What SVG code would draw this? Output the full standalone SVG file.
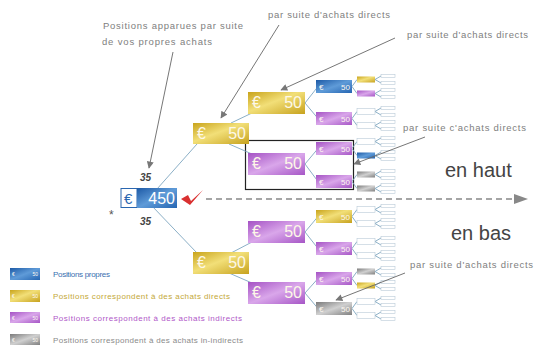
<svg xmlns="http://www.w3.org/2000/svg" width="536" height="345" viewBox="0 0 536 345">
<defs>
<linearGradient id="gY" x1="0" y1="0" x2="1" y2="1"><stop offset="0" stop-color="#c9a41c"/><stop offset="0.45" stop-color="#f2df78"/><stop offset="1" stop-color="#c7a21e"/></linearGradient>
<linearGradient id="gP" x1="0" y1="0" x2="1" y2="1"><stop offset="0" stop-color="#a552c4"/><stop offset="0.5" stop-color="#d9a6ea"/><stop offset="1" stop-color="#a656c6"/></linearGradient>
<linearGradient id="gB" x1="0" y1="0" x2="1" y2="1"><stop offset="0" stop-color="#1d5aa6"/><stop offset="0.5" stop-color="#5f9bd8"/><stop offset="1" stop-color="#2565b2"/></linearGradient>
<linearGradient id="gG" x1="0" y1="0" x2="1" y2="1"><stop offset="0" stop-color="#7a7a7a"/><stop offset="0.5" stop-color="#d0d0d0"/><stop offset="1" stop-color="#808080"/></linearGradient>
<marker id="ah" viewBox="0 0 10 10" refX="9" refY="5" markerWidth="8" markerHeight="7" orient="auto" markerUnits="userSpaceOnUse"><path d="M0,0 L10,5 L0,10 z" fill="#777"/></marker>
</defs>
<style>
.y{fill:url(#gY)}.p{fill:url(#gP)}.b{fill:url(#gB)}.g{fill:url(#gG)}.w{fill:#fff;stroke:#b9cad8;stroke-width:0.6}
.big{font-family:"Liberation Sans",Arial,sans-serif;font-size:16px;fill:#fdf8e8}
.sm{font-family:"Liberation Sans",Arial,sans-serif;font-size:8px;fill:#fdf8f0}
.tiny{font-family:"Liberation Sans",Arial,sans-serif;font-size:5px;fill:#fdf8f0}
.lbl{font-family:"Liberation Sans",Arial,sans-serif;font-size:9.5px;fill:#808080}
.leg{font-family:"Liberation Sans",Arial,sans-serif;font-size:8px}
.con{stroke:#7ea6bf;stroke-width:0.9;fill:none}
.arr{stroke:#666;stroke-width:0.9;fill:none;marker-end:url(#ah)}
.num{font-family:"Liberation Sans",Arial,sans-serif;font-size:10px;font-style:italic;font-weight:bold;fill:#444}
.dir{font-family:"Liberation Sans",Arial,sans-serif;font-size:20px;fill:#444}
</style>
<rect width="536" height="345" fill="#fff"/>

<!-- framed group -->
<rect x="245.5" y="140.5" width="108" height="49" fill="none" stroke="#222" stroke-width="1.2"/>

<!-- direction axis -->
<g id="axis">
<line x1="206" y1="199" x2="515" y2="199" stroke="#888" stroke-width="1.5" stroke-dasharray="6 4"/>
<path d="M514,194 L528,199 L514,204 z" fill="#888"/>
<text class="dir" x="445" y="177">en haut</text>
<text class="dir" x="451" y="240">en bas</text>
</g>

<g id="connectors">
<line class="con" x1="157" y1="189" x2="197" y2="144"/>
<line class="con" x1="152" y1="206" x2="197" y2="253"/>
<line class="con" x1="231" y1="123" x2="252" y2="113"/>
<line class="con" x1="229" y1="144" x2="252" y2="154"/>
<line class="con" x1="231" y1="253" x2="252" y2="242"/>
<line class="con" x1="229" y1="273" x2="252" y2="283"/>
<path class="con" d="M318,86.5 L305,103 L318,118.5"/>
<path class="con" d="M318,148.5 L305,164 L318,181.5"/>
<path class="con" d="M318,216.5 L305,232 L318,248.5"/>
<path class="con" d="M318,278.5 L305,293 L318,308.5"/>
<path class="con" d="M357,79.5 L352,86.5 L357,93.5 M357,111.5 L352,118.5 L357,125.5 M357,141.5 L352,148.5 L357,155.5 M357,174.5 L352,181.5 L357,188.5 M357,209.5 L352,216.5 L357,223.5 M357,241.5 L352,248.5 L357,255.5 M357,271.5 L352,278.5 L357,285.5 M357,301.5 L352,308.5 L357,315.5"/>
<path class="con" d="M381,76 L375,79.5 L381,83 M381,90 L375,93.5 L381,97 M381,108 L375,111.5 L381,115 M381,122 L375,125.5 L381,129 M381,138 L375,141.5 L381,145 M381,152 L375,155.5 L381,159 M381,171 L375,174.5 L381,178 M381,185 L375,188.5 L381,192 M381,206 L375,209.5 L381,213 M381,220 L375,223.5 L381,227 M381,238 L375,241.5 L381,245 M381,252 L375,255.5 L381,259 M381,268 L375,271.5 L381,275 M381,282 L375,285.5 L381,289 M381,298 L375,301.5 L381,305 M381,312 L375,315.5 L381,319"/>
</g>

<g id="root">
<rect x="121" y="188.5" width="16" height="19" fill="#fff" stroke="#2a66b0" stroke-width="1"/>
<text x="124" y="204" font-family="Liberation Sans, Arial, sans-serif" font-size="15" fill="#2a66b0">€</text>
<rect x="137" y="188" width="40" height="20" class="b"/>
<text x="175" y="204" font-family="Liberation Sans, Arial, sans-serif" font-size="16" fill="#fff" text-anchor="end">450</text>
<path d="M181,199 L188,195 L191,201 L203,190 L190,205 Z" fill="#d93030"/>
<text class="num" x="140" y="181">35</text>
<text class="num" x="140" y="225">35</text>
<text x="109" y="219" font-family="Liberation Sans, Arial, sans-serif" font-size="12" fill="#555">*</text>
</g>

<g id="n1a"><rect x="193" y="123" width="56" height="21" class="y"/><text class="big" x="197" y="139">€</text><text class="big" x="246" y="139" text-anchor="end">50</text></g>
<g id="n1b"><rect x="193" y="252" width="56" height="22" class="y"/><text class="big" x="197" y="268">€</text><text class="big" x="246" y="268" text-anchor="end">50</text></g>

<g id="n2a"><rect x="248" y="92" width="57" height="22" class="y"/><text class="big" x="252" y="108">€</text><text class="big" x="302" y="108" text-anchor="end">50</text></g>
<g id="n2b"><rect x="248" y="153" width="57" height="22" class="p"/><text class="big" x="252" y="169">€</text><text class="big" x="302" y="169" text-anchor="end">50</text></g>
<g id="n2c"><rect x="248" y="221" width="57" height="22" class="p"/><text class="big" x="252" y="237">€</text><text class="big" x="302" y="237" text-anchor="end">50</text></g>
<g id="n2d"><rect x="248" y="282" width="57" height="22" class="p"/><text class="big" x="252" y="298">€</text><text class="big" x="302" y="298" text-anchor="end">50</text></g>

<g id="n3a"><rect x="316" y="80" width="36" height="13" class="b"/><text class="sm" x="319" y="90">€</text><text class="sm" x="350" y="90" text-anchor="end">50</text></g>
<g id="n3b"><rect x="316" y="112" width="36" height="13" class="p"/><text class="sm" x="319" y="122">€</text><text class="sm" x="350" y="122" text-anchor="end">50</text></g>
<g id="n3c"><rect x="316" y="142" width="36" height="13" class="p"/><text class="sm" x="319" y="152">€</text><text class="sm" x="350" y="152" text-anchor="end">50</text></g>
<g id="n3d"><rect x="316" y="175" width="36" height="13" class="p"/><text class="sm" x="319" y="185">€</text><text class="sm" x="350" y="185" text-anchor="end">50</text></g>
<g id="n3e"><rect x="316" y="210" width="36" height="13" class="y"/><text class="sm" x="319" y="220">€</text><text class="sm" x="350" y="220" text-anchor="end">50</text></g>
<g id="n3f"><rect x="316" y="242" width="36" height="13" class="p"/><text class="sm" x="319" y="252">€</text><text class="sm" x="350" y="252" text-anchor="end">50</text></g>
<g id="n3g"><rect x="316" y="272" width="36" height="13" class="p"/><text class="sm" x="319" y="282">€</text><text class="sm" x="350" y="282" text-anchor="end">50</text></g>
<g id="n3h"><rect x="316" y="302" width="36" height="13" class="g"/><text class="sm" x="319" y="312">€</text><text class="sm" x="350" y="312" text-anchor="end">50</text></g>

<g id="level4">
<rect x="357" y="76.5" width="18" height="6" class="y"/>
<rect x="357" y="90.5" width="18" height="6" class="p"/>
<rect x="357" y="108.5" width="18" height="6" class="w"/>
<rect x="357" y="122.5" width="18" height="6" class="w"/>
<rect x="357" y="138.5" width="18" height="6" class="w"/>
<rect x="357" y="152.5" width="18" height="6" class="b"/>
<rect x="357" y="171.5" width="18" height="6" class="g"/>
<rect x="357" y="185.5" width="18" height="6" class="g"/>
<rect x="357" y="206.5" width="18" height="6" class="w"/>
<rect x="357" y="220.5" width="18" height="6" class="w"/>
<rect x="357" y="238.5" width="18" height="6" class="w"/>
<rect x="357" y="252.5" width="18" height="6" class="w"/>
<rect x="357" y="268.5" width="18" height="6" class="g"/>
<rect x="357" y="282.5" width="18" height="6" class="y"/>
<rect x="357" y="298.5" width="18" height="6" class="w"/>
<rect x="357" y="312.5" width="18" height="6" class="w"/>
</g>

<g id="level5">
<rect x="381" y="74.5" width="14" height="3" class="w"/><rect x="381" y="81.5" width="14" height="3" class="w"/>
<rect x="381" y="88.5" width="14" height="3" class="w"/><rect x="381" y="95.5" width="14" height="3" class="w"/>
<rect x="381" y="106.5" width="14" height="3" class="w"/><rect x="381" y="113.5" width="14" height="3" class="w"/>
<rect x="381" y="120.5" width="14" height="3" class="w"/><rect x="381" y="127.5" width="14" height="3" class="w"/>
<rect x="381" y="136.5" width="14" height="3" class="w"/><rect x="381" y="143.5" width="14" height="3" class="w"/>
<rect x="381" y="150.5" width="14" height="3" class="w"/><rect x="381" y="157.5" width="14" height="3" class="w"/>
<rect x="381" y="169.5" width="14" height="3" class="w"/><rect x="381" y="176.5" width="14" height="3" class="w"/>
<rect x="381" y="183.5" width="14" height="3" class="w"/><rect x="381" y="190.5" width="14" height="3" class="w"/>
<rect x="381" y="204.5" width="14" height="3" class="w"/><rect x="381" y="211.5" width="14" height="3" class="w"/>
<rect x="381" y="218.5" width="14" height="3" class="w"/><rect x="381" y="225.5" width="14" height="3" class="w"/>
<rect x="381" y="236.5" width="14" height="3" class="w"/><rect x="381" y="243.5" width="14" height="3" class="w"/>
<rect x="381" y="250.5" width="14" height="3" class="w"/><rect x="381" y="257.5" width="14" height="3" class="w"/>
<rect x="381" y="266.5" width="14" height="3" class="w"/><rect x="381" y="273.5" width="14" height="3" class="w"/>
<rect x="381" y="280.5" width="14" height="3" class="w"/><rect x="381" y="287.5" width="14" height="3" class="w"/>
<rect x="381" y="296.5" width="14" height="3" class="w"/><rect x="381" y="303.5" width="14" height="3" class="w"/>
<rect x="381" y="310.5" width="14" height="3" class="w"/><rect x="381" y="317.5" width="14" height="3" class="w"/>
</g>

<g id="annotations">
<text class="lbl" x="103" y="29" textLength="140" lengthAdjust="spacing">Positions apparues par suite</text>
<text class="lbl" x="102" y="45" textLength="110" lengthAdjust="spacing">de vos propres achats</text>
<line class="arr" x1="173" y1="52" x2="149" y2="168"/>
<text class="lbl" x="268" y="18" textLength="122" lengthAdjust="spacing">par suite d'achats directs</text>
<line class="arr" x1="279" y1="25" x2="221" y2="118"/>
<text class="lbl" x="407" y="38" textLength="121" lengthAdjust="spacing">par suite d'achats directs</text>
<line class="arr" x1="395" y1="38" x2="281" y2="90"/>
<text class="lbl" x="403" y="131" textLength="123" lengthAdjust="spacing">par suite c'achats directs</text>
<line class="arr" x1="425" y1="137" x2="354" y2="164"/>
<text class="lbl" x="410" y="268" textLength="123" lengthAdjust="spacing">par suite d'achats directs</text>
<line class="arr" x1="405" y1="273" x2="336" y2="300"/>
</g>

<g id="legend">
<rect x="10" y="268" width="30" height="12" class="b"/><text class="tiny" x="12" y="276">€</text><text class="tiny" x="38" y="276" text-anchor="end">50</text>
<text class="leg" x="53" y="277" fill="#3a6fb0" textLength="57" lengthAdjust="spacing">Positions propres</text>
<rect x="10" y="290" width="30" height="12" class="y"/><text class="tiny" x="12" y="298">€</text><text class="tiny" x="38" y="298" text-anchor="end">50</text>
<text class="leg" x="53" y="299" fill="#c4a838" textLength="177" lengthAdjust="spacing">Positions correspondent à des achats directs</text>
<rect x="10" y="312" width="30" height="11" class="p"/><text class="tiny" x="12" y="320">€</text><text class="tiny" x="38" y="320" text-anchor="end">50</text>
<text class="leg" x="53" y="321" fill="#b058c8" textLength="189" lengthAdjust="spacing">Positions correspondent à des achats indirects</text>
<rect x="10" y="334" width="30" height="11" class="g"/><text class="tiny" x="12" y="342">€</text><text class="tiny" x="38" y="342" text-anchor="end">50</text>
<text class="leg" x="53" y="342.5" fill="#8a8a8a" textLength="190" lengthAdjust="spacing">Positions correspondent à des achats in-indirects</text>
</g>
</svg>
